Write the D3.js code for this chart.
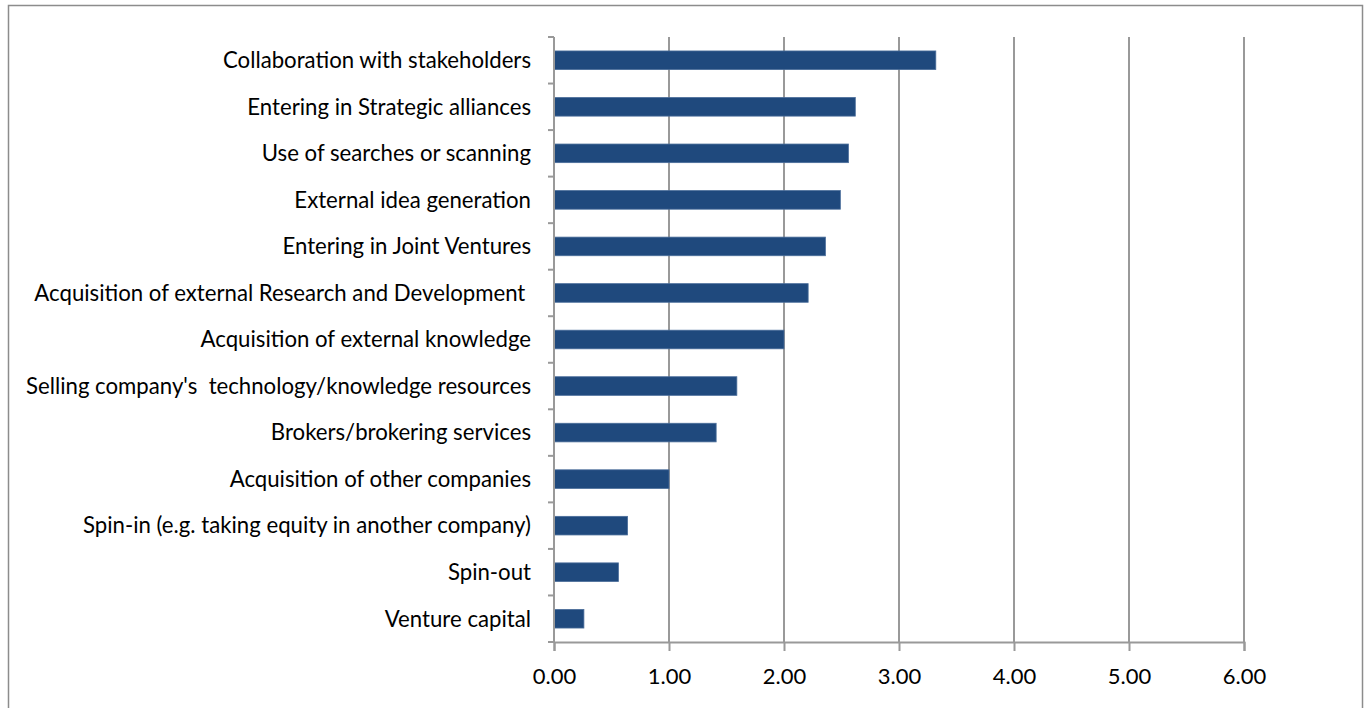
<!DOCTYPE html>
<html>
<head>
<meta charset="utf-8">
<script src="https://cdn.jsdelivr.net/npm/d3@7"></script>
<style>
  html, body { margin: 0; padding: 0; background: #fff; }
  svg { display: block; }
  text { font-family: Lato, "Open Sans", sans-serif; fill: #000; }
</style>
</head>
<body>
<svg id="chart" width="1367" height="708"></svg>
<script>
// Open innovation practices, mean scores
const categories = [
  "Collaboration with stakeholders",
  "Entering in Strategic alliances",
  "Use of searches or scanning",
  "External idea generation",
  "Entering in Joint Ventures",
  "Acquisition of external Research and Development ",
  "Acquisition of external knowledge",
  "Selling company's  technology/knowledge resources",
  "Brokers/brokering services",
  "Acquisition of other companies",
  "Spin-in (e.g. taking equity in another company)",
  "Spin-out",
  "Venture capital"
];
const values = [3.32, 2.62, 2.56, 2.49, 2.36, 2.21, 2.00, 1.59, 1.41, 1.00, 0.64, 0.56, 0.26];
const xTicks = [0, 1, 2, 3, 4, 5, 6];

const svg = d3.select("#chart");
const margin = { left: 554, right: 123, top: 37, bottom: 66 };
const W = 1367, H = 708;
const x = d3.scaleLinear().domain([0, 6]).range([margin.left, W - margin.right]);
const y = d3.scaleBand().domain(categories).range([margin.top, H - margin.bottom]).paddingInner(0.6).paddingOuter(0.3);
const yEdges = d3.scaleLinear().domain([0, categories.length]).range([margin.top, H - margin.bottom]);

// outer frame
svg.append("rect")
  .attr("x", 8.5).attr("y", 5.5).attr("width", 1354).attr("height", 710)
  .attr("fill", "none").attr("stroke", "#8c8c8c").attr("stroke-width", 1.5);

// vertical gridlines
svg.append("g").selectAll("line").data(xTicks.slice(1)).join("line")
  .attr("x1", d => x(d)).attr("x2", d => x(d))
  .attr("y1", margin.top).attr("y2", H - margin.bottom)
  .attr("stroke", "#999").attr("stroke-width", 2);

// bars
svg.append("g").selectAll("rect").data(values).join("rect")
  .attr("x", x(0))
  .attr("y", (d, i) => y(categories[i]))
  .attr("width", d => x(d) - x(0))
  .attr("height", y.bandwidth())
  .attr("fill", "#1f497d")
  .attr("stroke", "#4a6d9a").attr("stroke-width", 0.8);

// x axis
const xAxis = svg.append("g").attr("transform", `translate(0,${H - margin.bottom})`)
  .call(d3.axisBottom(x).tickValues(xTicks).tickFormat(d3.format(".2f")).tickSize(9).tickPadding(17));
xAxis.select(".domain").attr("stroke", "#999").attr("stroke-width", 2);
xAxis.selectAll(".tick line").attr("stroke", "#999").attr("stroke-width", 2);
xAxis.selectAll("text").attr("font-size", 22).attr("fill", "#000")
  .style("font-family", "Lato, sans-serif");

// y axis line with category boundary ticks
svg.append("line")
  .attr("x1", x(0)).attr("x2", x(0))
  .attr("y1", margin.top).attr("y2", H - margin.bottom)
  .attr("stroke", "#999").attr("stroke-width", 2);
svg.append("g").selectAll("line").data(d3.range(categories.length + 1)).join("line")
  .attr("x1", x(0) - 6).attr("x2", x(0))
  .attr("y1", d => yEdges(d)).attr("y2", d => yEdges(d))
  .attr("stroke", "#999").attr("stroke-width", 2);

// category labels
svg.append("g").selectAll("text").data(categories).join("text")
  .attr("x", x(0) - 23)
  .attr("y", d => y(d) + y.bandwidth() / 2)
  .attr("dy", "0.35em")
  .attr("text-anchor", "end")
  .attr("font-size", 22.2)
  .style("white-space", "pre")
  .text(d => d);
</script>
</body>
</html>
